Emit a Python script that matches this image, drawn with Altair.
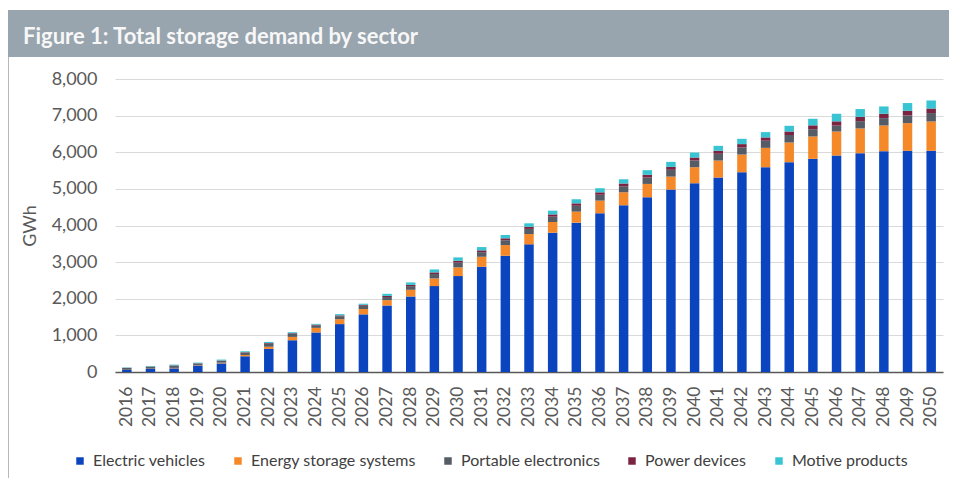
import altair as alt
import pandas as pd

years = [str(y) for y in range(2016, 2051)]
series = ["Electric vehicles", "Energy storage systems", "Portable electronics", "Power devices", "Motive products"]
colors = ["#0a44bf", "#f5892a", "#565c66", "#7b2442", "#38c4d2"]

ev = [55, 82, 100, 180, 235, 430, 630, 867, 1080, 1308, 1574, 1816, 2062, 2345, 2618, 2873, 3174, 3485,
      3803, 4077, 4334, 4552, 4771, 4980, 5154, 5308, 5455, 5592, 5729, 5819, 5910, 5975, 6030, 6039, 6039]
ess = [5, 8, 12, 12, 20, 35, 60, 91, 125, 135, 145, 146, 182, 210, 238, 273, 292, 282,
       293, 301, 345, 356, 364, 355, 438, 465, 482, 528, 537, 611, 656, 674, 701, 757, 801]
pe = [50, 55, 62, 40, 50, 62, 80, 80, 70, 80, 90, 85, 100, 120, 130, 125, 130, 140,
      145, 160, 160, 165, 175, 185, 185, 185, 195, 195, 205, 200, 160, 200, 200, 210, 230]
pd_ = [5, 6, 8, 8, 10, 14, 20, 20, 18, 22, 25, 30, 35, 45, 50, 50, 54, 58,
       62, 67, 67, 72, 75, 80, 80, 82, 90, 90, 96, 105, 118, 118, 120, 125, 125]
mp = [10, 14, 20, 17, 24, 25, 31, 28, 21, 35, 31, 58, 66, 80, 93, 90, 90, 95,
      102, 112, 112, 119, 125, 137, 135, 135, 145, 145, 155, 179, 207, 212, 200, 212, 219]

rows = []
for k, vals in enumerate([ev, ess, pe, pd_, mp]):
    for y, v in zip(years, vals):
        rows.append({"year": y, "sector": series[k], "value": v, "idx": k})
df = pd.DataFrame(rows)

W, H = 828, 293
PL, PT, PR, PB = 107, 71, 6, 106
FONT = "Lato"
TXT = "#595959"

bars = alt.Chart(df).mark_bar().encode(
    x=alt.X("year:N", sort=years,
            scale=alt.Scale(paddingInner=0.6, paddingOuter=0.3),
            axis=alt.Axis(title=None, labelAngle=-90, labelFont=FONT, labelFontSize=17.5,
                          labelColor=TXT, ticks=False, domainColor="#595959",
                          domainWidth=1.5, labelPadding=14, grid=False)),
    y=alt.Y("value:Q", stack="zero",
            scale=alt.Scale(domain=[0, 8000], nice=False),
            axis=alt.Axis(values=list(range(0, 8001, 1000)), format=",.0f", grid=True,
                          gridColor="#d9d9d9", domain=False, ticks=False,
                          labelFont=FONT, labelFontSize=18, labelColor=TXT, labelPadding=18,
                          title="GWh", titleFont=FONT, titleFontSize=18,
                          titleFontWeight="normal", titleColor=TXT, titlePadding=12)),
    color=alt.Color("sector:N", sort=series,
                    scale=alt.Scale(domain=series, range=colors),
                    legend=alt.Legend(orient="none", legendX=-43, legendY=374,
                                      direction="horizontal", title=None,
                                      symbolType="square", symbolSize=56,
                                      symbolStrokeWidth=0, labelLimit=400,
                                      labelFont=FONT, labelFontSize=16, labelColor="#404040",
                                      columnPadding=24, labelOffset=5)),
    order=alt.Order("idx:Q", sort="ascending"),
)

one = pd.DataFrame({"a": [0]})
title_bar = alt.Chart(one).mark_rect(color="#98a4ae").encode(
    x=alt.value(-PL), x2=alt.value(W + PR), y=alt.value(-69), y2=alt.value(-22))
title_txt = alt.Chart(one).mark_text(
    text="Figure 1: Total storage demand by sector", font=FONT, fontSize=22,
    fontWeight="bold", color="#f7f7f7", align="left", baseline="alphabetic").encode(
    x=alt.value(-92), y=alt.value(-35))
border = alt.Chart(one).mark_rule(color="#b8b8b8", strokeWidth=1).encode(
    x=alt.value(-PL + 0.5), y=alt.value(-22), y2=alt.value(H + PB))

chart = alt.layer(title_bar, title_txt, border, bars).properties(
    width=W, height=H,
    autosize=alt.AutoSizeParams(type="none"),
    padding={"left": PL, "top": PT, "right": PR, "bottom": PB},
    background="white",
).configure_view(stroke=None)

chart.save("out.html", embed_options={"renderer": "svg", "actions": False})
